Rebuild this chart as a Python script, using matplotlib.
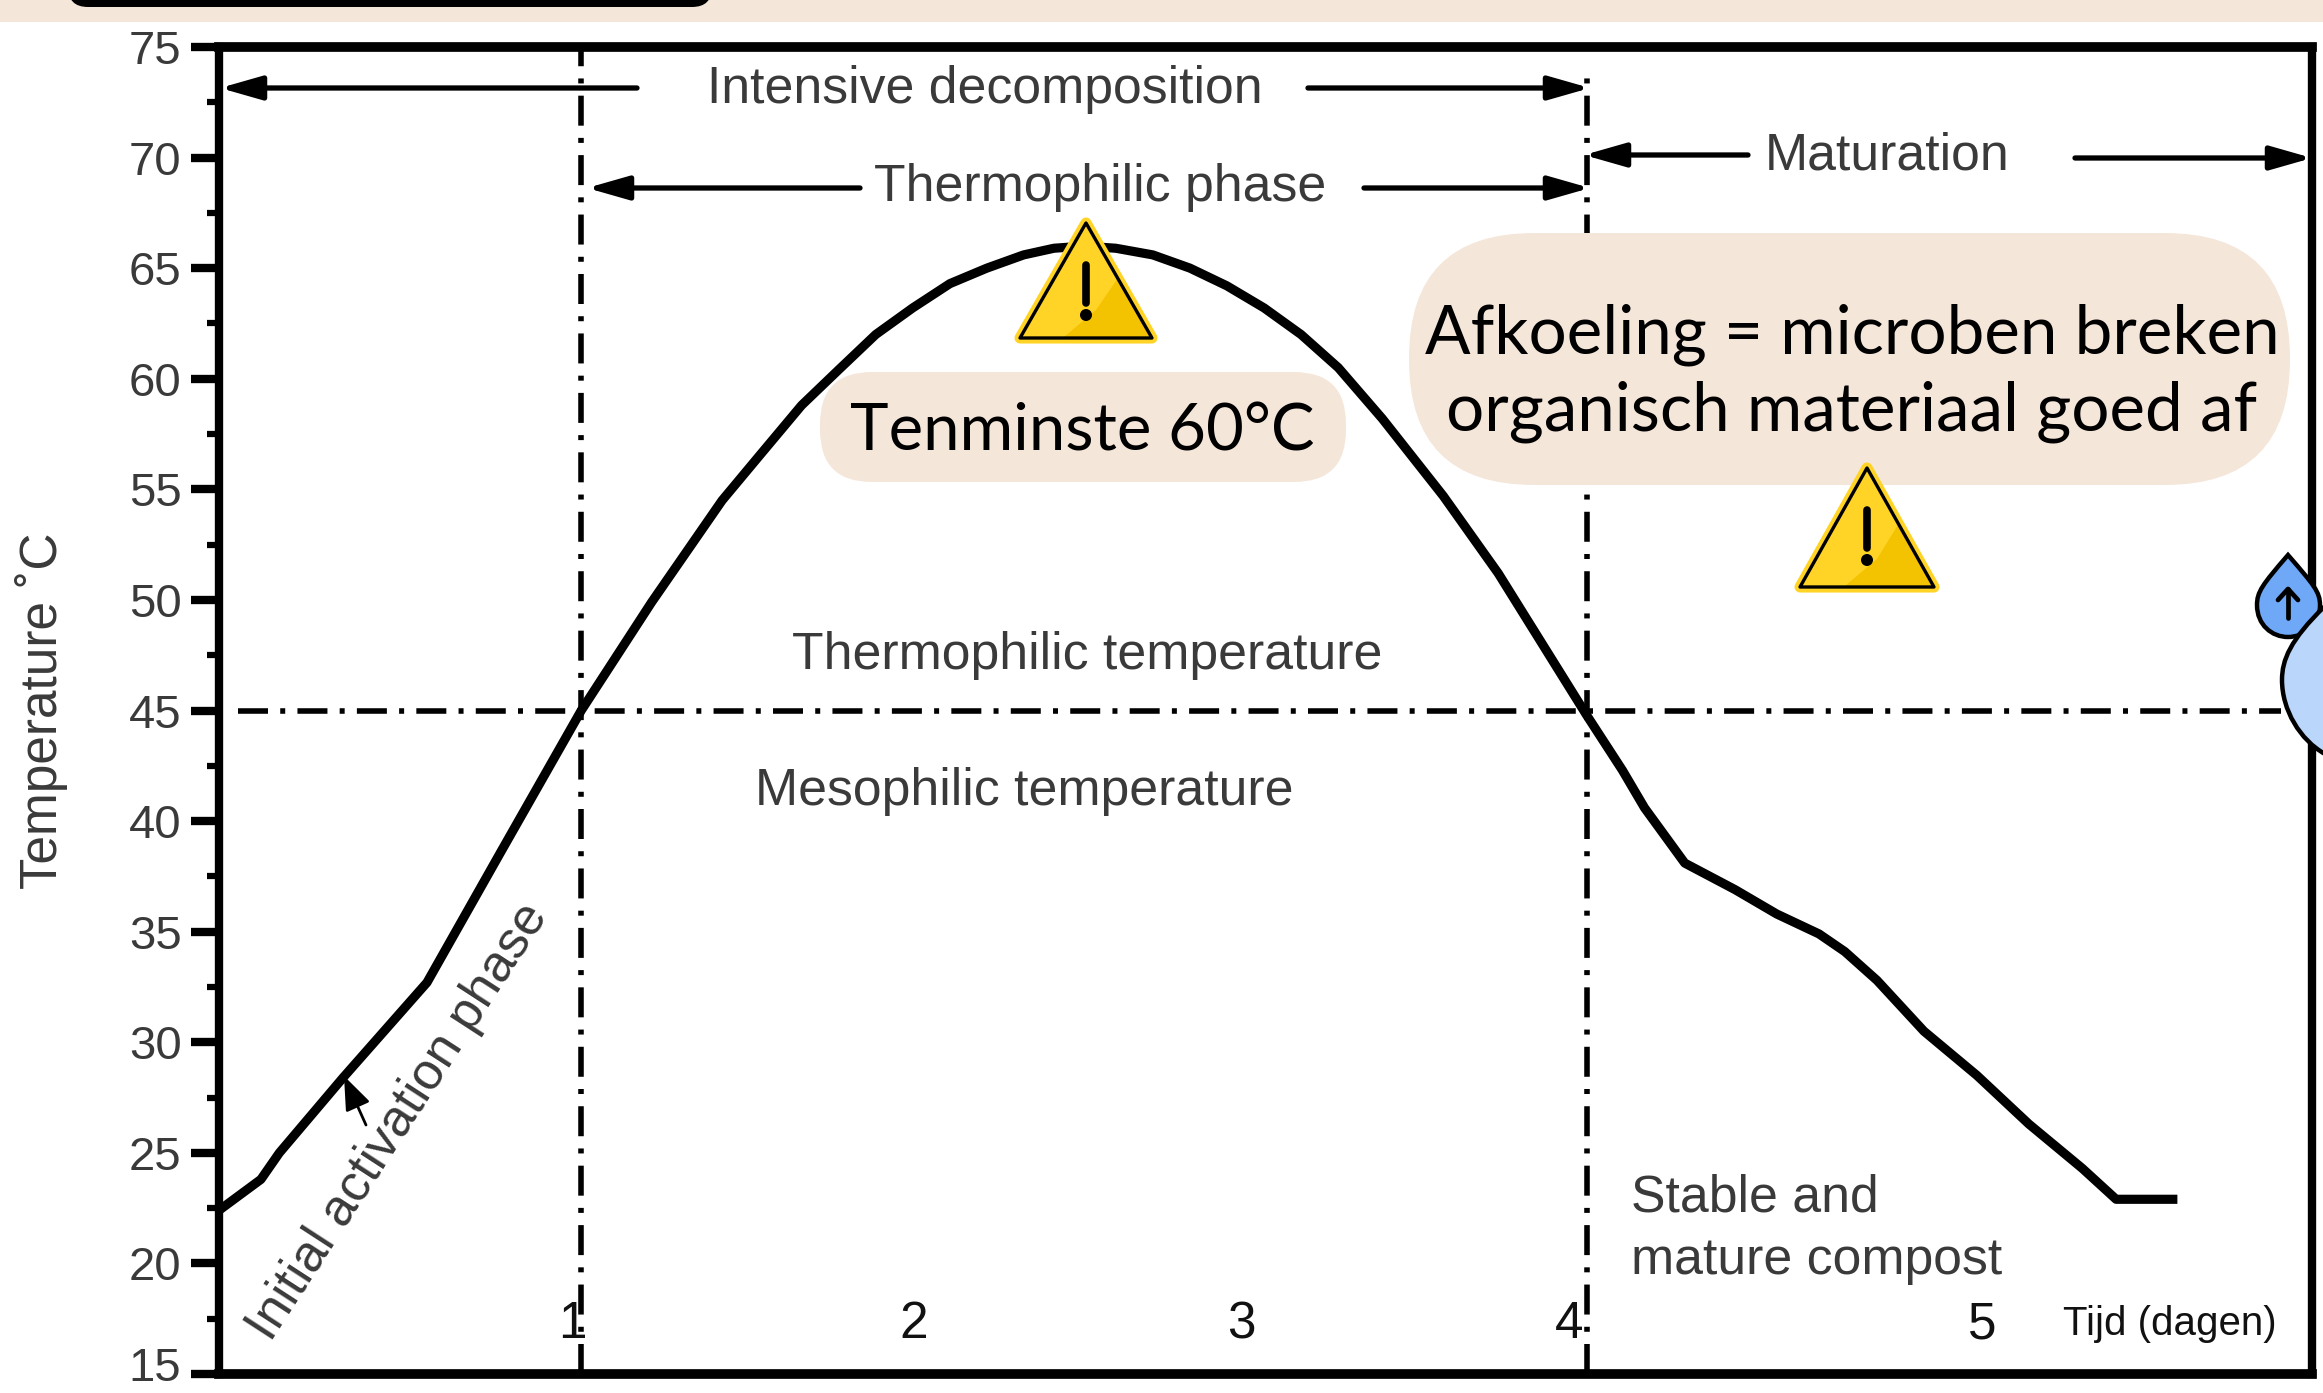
import matplotlib
matplotlib.use("Agg")
import matplotlib.pyplot as plt
from matplotlib.patches import FancyBboxPatch, Polygon, Rectangle, Circle, PathPatch
from matplotlib.path import Path
from matplotlib.transforms import ScaledTranslation

W, H = 2323, 1393
PEACH = "#F5E6DA"
GREY = "#3a3a3a"

days = [-0.08, 0.045, 0.10, 0.29, 0.54, 0.76, 1.0, 1.21, 1.42, 1.53, 1.657, 1.767, 1.878, 1.988,
        2.099, 2.209, 2.319, 2.409, 2.5, 2.594, 2.704, 2.815, 2.925, 3.036, 3.146, 3.257, 3.388,
        3.57, 3.734, 3.997, 4.104, 4.17, 4.29, 4.44, 4.564, 4.69, 4.767, 4.863, 5.003, 5.161,
        5.316, 5.475, 5.576, 5.745]
temps = [22.4, 23.8, 25.0, 28.4, 32.7, 38.6, 45.0, 49.9, 54.5, 56.5, 58.8, 60.4, 62.0, 63.2,
         64.3, 65.0, 65.6, 65.9, 66.0, 65.9, 65.6, 65.0, 64.2, 63.2, 62.0, 60.5, 58.2,
         54.7, 51.2, 44.8, 42.3, 40.6, 38.1, 36.9, 35.8, 34.9, 34.1, 32.8, 30.5, 28.5,
         26.3, 24.3, 22.9, 22.9]
y_major = list(range(15, 80, 5))
y_minor = [17.5, 22.5, 27.5, 32.5, 37.5, 42.5, 47.5, 52.5, 57.5, 62.5, 67.5, 72.5]
phase_days = [1, 4]
phase_tops = [1.0, 0.982]
mesophilic_limit = 45
day_labels = ["1", "2", "3", "4", "5"]

plt.rcParams["font.family"] = ["Liberation Sans", "DejaVu Sans"]

fig = plt.figure(figsize=(W / 100, H / 100), dpi=100, facecolor="white")

# main chart axes, placed by pixel position
left, right, top, bottom = 219, 2312, 47, 1374
dash = (0, (5.4, 2.2, 0.9, 2.2))
ax = fig.add_axes([left / W, 1 - bottom / H, (right - left) / W, (bottom - top) / H])
ax.set_xlim(-0.08, 6.16)
ax.set_ylim(15, 75)
ax.plot(days, temps, color="black", lw=6.6, solid_joinstyle="round", zorder=3)
ax.axhline(mesophilic_limit, color="black", lw=4, xmin=0.009, xmax=0.985, ls=dash, zorder=2)
for d, t in zip(phase_days, phase_tops):
    ax.axvline(d, color="black", lw=4, ymax=t, ls=dash, zorder=2)
for s in ax.spines.values():
    s.set_linewidth(6)
ax.spines["top"].set_linewidth(7)
ax.spines["bottom"].set_linewidth(7)
ax.set_yticks(y_major)
ax.set_yticks(y_minor, minor=True)
ax.set_xticks([])
ax.tick_params(axis="y", which="major", length=20, width=6, pad=7, labelsize=34, labelcolor=GREY)
ax.tick_params(axis="y", which="minor", length=9, width=4.5)
ax.set_ylabel("Temperature ˚C", fontsize=37, color=GREY, labelpad=44)

# the bottom tick label sits a little above its tick
lab15 = ax.get_yticklabels()[0]
lab15.set_transform(lab15.get_transform() + ScaledTranslation(0, 7 / 72, fig.dpi_scale_trans))

# overlay in pixel coordinates for the annotations
ov = fig.add_axes([0, 0, 1, 1])
ov.set_xlim(0, W)
ov.set_ylim(H, 0)
ov.axis("off")
ov.patch.set_alpha(0)

ov.add_patch(Rectangle((0, 0), W, 22, color=PEACH, lw=0))
ov.add_patch(FancyBboxPatch((68, -40), 644, 47, boxstyle="round,pad=0,rounding_size=20",
                            fc="black", ec="none"))


def arrow(x1, x2, y):
    ov.annotate("", xy=(x2, y), xytext=(x1, y),
                arrowprops=dict(arrowstyle="-|>,head_length=1.4,head_width=0.4", lw=3.8, color="black",
                                shrinkA=0, shrinkB=0, mutation_scale=18))


arrow(637, 220, 88)
arrow(1308, 1590, 88)
arrow(860, 587, 188)
arrow(1364, 1590, 188)
arrow(1748, 1584, 155)
arrow(2075, 2312, 158)
ov.annotate("", xy=(344, 1076), xytext=(366, 1125),
            arrowprops=dict(arrowstyle="-|>,head_length=1.3,head_width=0.5", lw=2, color="black",
                            shrinkA=0, shrinkB=0, mutation_scale=16))

labels = [
    ("Intensive decomposition", 985, 90),
    ("Thermophilic phase", 1100, 188),
    ("Maturation", 1887, 156),
    ("Thermophilic temperature", 1087, 655),
    ("Mesophilic temperature", 1024, 791),
]
for txt, x, y in labels:
    ov.text(x, y, txt, ha="center", va="center", fontsize=37.3, color=GREY)
ov.text(1631, 1229, "Stable and\nmature compost", ha="left", va="center", fontsize=37.3,
        color=GREY, linespacing=1.35)
ov.text(398, 1122, "Initial activation phase", ha="center", va="center", rotation=57,
        rotation_mode="anchor", fontsize=37.3, color=GREY)

for txt, x in zip(day_labels, [572, 914, 1241, 1569, 1982]):
    ov.text(x, 1325, txt, ha="center", va="center", fontsize=37, color="#111111")
ov.text(2170, 1324, "Tijd (dagen)", ha="center", va="center", fontsize=29, color="#111111")

# callouts
ov.add_patch(FancyBboxPatch((820, 372), 526, 110, boxstyle="round,pad=0,rounding_size=52",
                            fc=PEACH, ec="none", zorder=5))
ov.text(1082, 432, "Tenminste 60°C", ha="center", va="center", fontsize=47, color="black",
        family=["Lato", "DejaVu Sans"], zorder=6)
ov.add_patch(FancyBboxPatch((1409, 233), 881, 252, boxstyle="round,pad=0,rounding_size=125",
                            fc=PEACH, ec="none", zorder=5))
ov.text(1852, 373, "Afkoeling = microben breken\norganisch materiaal goed af", ha="center",
        va="center", fontsize=48.5, color="black", family=["Lato", "DejaVu Sans"],
        linespacing=1.3, zorder=6)


def warning(cx, top_y, bottom_y, half):
    tri = [(cx, top_y), (cx + half, bottom_y), (cx - half, bottom_y)]
    ov.add_patch(Polygon(tri, closed=True, fc="#FFD426", ec="#FFD426", lw=8, joinstyle="round", zorder=7))
    ov.add_patch(Polygon([(cx + 32, top_y + 55), (cx + half - 2, bottom_y - 1), (cx - 22, bottom_y - 1), (cx + 10, bottom_y - 28)],
                         closed=True, fc="#F3C200", ec="none", zorder=8))
    ov.add_patch(Polygon(tri, closed=True, fill=False, ec="black", lw=2.4, joinstyle="round", zorder=9))
    ov.plot([cx, cx], [top_y + 42, top_y + 80], color="black", lw=5.5, solid_capstyle="round", zorder=9)
    ov.add_patch(Circle((cx, top_y + 92), 6, fc="black", ec="none", zorder=9))


warning(1086, 223, 338, 66)
warning(1867, 468, 587, 67)

# blue drops at the right edge
big = Path([(2325, 606), (2290, 640), (2282, 660), (2282, 680), (2282, 710), (2300, 740), (2325, 754)],
           [Path.MOVETO] + [Path.CURVE4] * 6)
ov.add_patch(PathPatch(big, fc="#BBD6FB", ec="black", lw=3.2, zorder=8))
drop = Path([(2288, 555), (2262, 585), (2257, 592), (2257, 605), (2257, 625), (2272, 637), (2288, 637),
             (2304, 637), (2320, 625), (2320, 605), (2320, 592), (2314, 585), (2288, 555), (2288, 555)],
            [Path.MOVETO] + [Path.CURVE4] * 12 + [Path.CLOSEPOLY])
ov.add_patch(PathPatch(drop, fc="#6FA8F7", ec="black", lw=3.2, zorder=7))
ov.plot([2288, 2288], [589, 618], color="black", lw=3.4, solid_capstyle="round", zorder=10)
ov.plot([2278, 2288, 2298], [600, 589, 600], color="black", lw=3.4, solid_capstyle="round", zorder=10)

fig.savefig("out.png", dpi=100)
